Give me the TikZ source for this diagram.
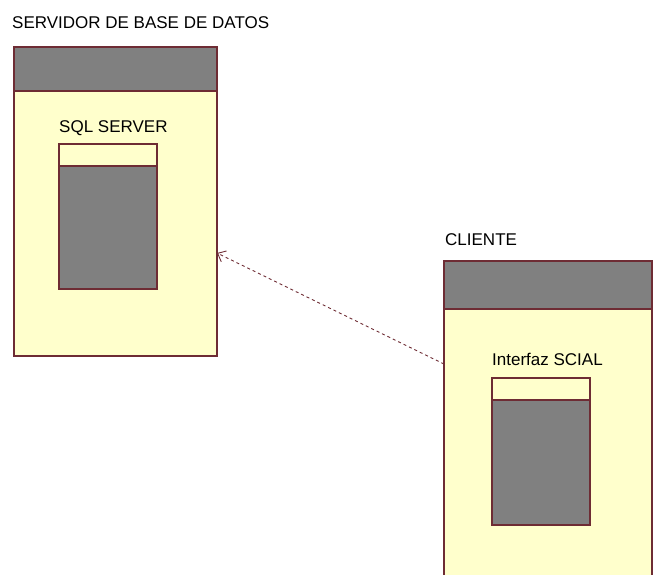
\documentclass[tikz,border=0pt]{standalone}
\usepackage{fontspec}
\setmainfont{Liberation Sans}
\usetikzlibrary{arrows.meta,positioning}
\definecolor{edge}{HTML}{6E2C34}
\definecolor{cream}{HTML}{FFFFCC}
\definecolor{slab}{HTML}{808080}
\tikzset{nodebox/.style={draw=edge,fill=cream,line width=1.2pt,anchor=north west,inner sep=0pt,outer sep=0pt},
         headbar/.style={nodebox,fill=slab},
         lbl/.style={anchor=base west,inner sep=0pt,font=\fontsize{17}{20}\selectfont},
         dep/.style={-{Straight Barb[length=7pt,width=12pt]},draw=edge,line width=0.9pt,dash pattern=on 3pt off 3pt}}

\begin{document}
\begin{tikzpicture}[x=1pt,y=-1pt]
\useasboundingbox (0,0) rectangle (654,574);
% database server
\node[nodebox, minimum width=203pt, minimum height=309pt] (srv) at (14,47) {};
\node[headbar, minimum width=203pt, minimum height=44pt] (srvhead) at (srv.north west) {};
\node[nodebox, minimum width=98pt, minimum height=22pt] (sqltop) at (59,144) {};
\node[headbar, minimum width=98pt, minimum height=123pt] (sql) at (sqltop.south west) {};
\node[lbl] (srvname) at (12,28) {SERVIDOR DE BASE DE DATOS};
\node[lbl] (sqlname) at (59,132) {SQL SERVER};
% client
\node[nodebox, minimum width=208pt, minimum height=330pt] (cli) at (444,261) {};
\node[headbar, minimum width=208pt, minimum height=48pt] (clihead) at (cli.north west) {};
\node[nodebox, minimum width=98pt, minimum height=22pt] (uitop) at (492,378) {};
\node[headbar, minimum width=98pt, minimum height=125pt] (ui) at (uitop.south west) {};
\node[lbl] (cliname) at (445,245) {CLIENTE};
\node[lbl] (uiname) at (492,365) {Interfaz SCIAL};
% dependency
\coordinate (clidep) at ([yshift=-103pt]cli.north west);
\coordinate (srvdep) at ([yshift=-206pt]srv.north east);
\draw[dep] (clidep) -- (srvdep);
\end{tikzpicture}
\end{document}
